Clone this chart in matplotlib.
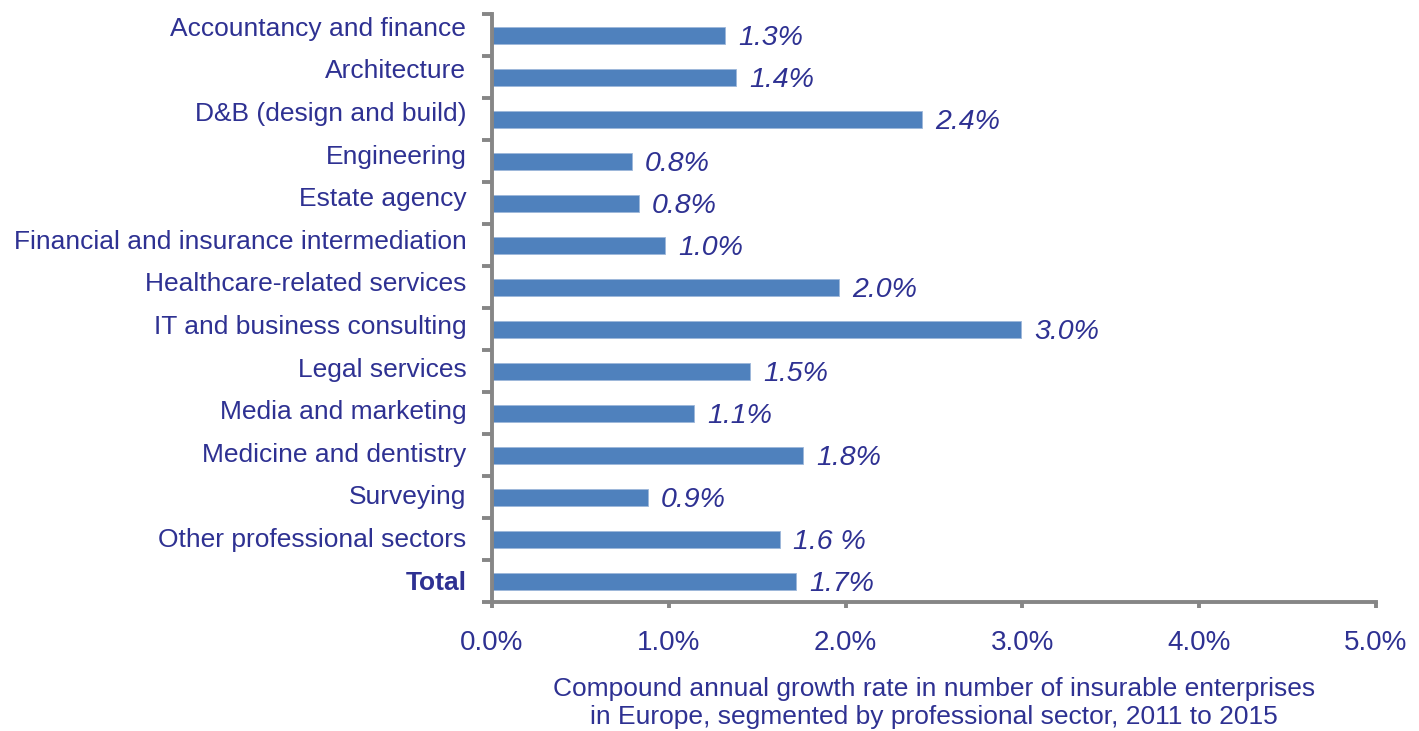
import matplotlib
matplotlib.use("Agg")
import matplotlib.pyplot as plt
import numpy as np

categories = ["Accountancy and finance", "Architecture", "D&B (design and build)",
              "Engineering", "Estate agency", "Financial and insurance intermediation",
              "Healthcare-related services", "IT and business consulting", "Legal services",
              "Media and marketing", "Medicine and dentistry", "Surveying",
              "Other professional sectors", "Total"]
values = [1.32, 1.38, 2.43, 0.79, 0.83, 0.98, 1.96, 2.99, 1.46, 1.14, 1.76, 0.88, 1.63, 1.72]
value_labels = ["1.3%", "1.4%", "2.4%", "0.8%", "0.8%", "1.0%", "2.0%", "3.0%",
                "1.5%", "1.1%", "1.8%", "0.9%", "1.6 %", "1.7%"]
xticks = [0, 1, 2, 3, 4, 5]
xtick_labels = ["0.0%", "1.0%", "2.0%", "3.0%", "4.0%", "5.0%"]
xlabel = "Compound annual growth rate in number of insurable enterprises\nin Europe, segmented by professional sector, 2011 to 2015"

plt.rcParams['font.family'] = ['Liberation Sans', 'DejaVu Sans']
navy = "#2E3192"
gray = "#868686"
barc = "#4F81BD"

fig = plt.figure(figsize=(14.19, 7.31), dpi=100)
ax = fig.add_axes([492/1419, 1-602/731, (1376-492)/1419, (602-14)/731])

y = np.arange(len(categories))
ax.barh(y + 0.02, values, height=0.4, color=barc, edgecolor="#9DB7DA", linewidth=0.6)
for yi, v, lab in zip(y, values, value_labels):
    ax.text(v + 0.075, yi + 0.07, lab, va="center", ha="left", fontsize=20.5,
            style="italic", color=navy)

ax.set_xlim(0, 5)
ax.set_ylim(len(categories) - 0.5, -0.5)

for s in ["top", "right"]:
    ax.spines[s].set_visible(False)
for s in ["left", "bottom"]:
    ax.spines[s].set_color(gray)
    ax.spines[s].set_linewidth(2.8)

# category labels sit slightly above bar centres near the top (as in the reference)
label_pos = y + np.linspace(-0.21, -0.02, len(categories))
ax.set_yticks(label_pos)
ax.set_yticklabels(categories)
for t in ax.get_yticklabels():
    t.set_color(navy)
    t.set_fontsize(19)
ax.get_yticklabels()[-1].set_fontweight("bold")
ax.set_yticks(np.arange(len(categories) + 1) - 0.5, minor=True)
ax.tick_params(axis="y", which="major", length=0, pad=18.5)
ax.tick_params(axis="y", which="minor", length=7, width=2.8, color=gray, direction="out")

ax.set_xticks(xticks)
ax.set_xticklabels(xtick_labels, fontsize=20, color=navy)
ax.tick_params(axis="x", which="major", length=4, width=2.8, color=gray, direction="out", pad=16.5)

ax.set_xlabel(xlabel, fontsize=19, color=navy, labelpad=15, linespacing=1.2)

fig.savefig("out.png", dpi=100)
